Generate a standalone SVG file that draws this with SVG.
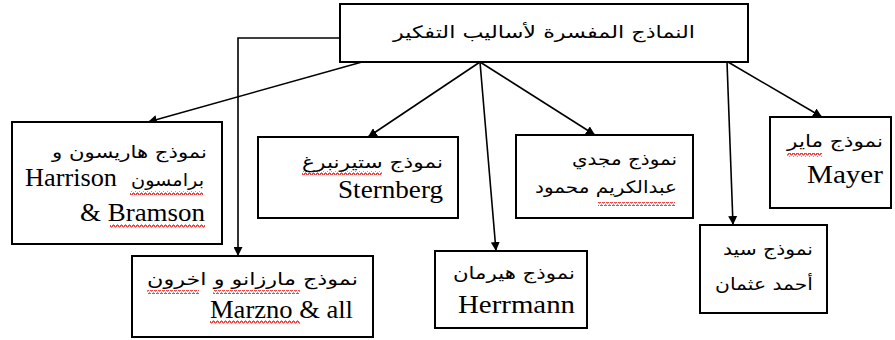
<svg xmlns="http://www.w3.org/2000/svg" width="895" height="340" viewBox="0 0 895 340">
<style>
.box{fill:#fff;stroke:#000;stroke-width:2}
.ar{font-family:"DejaVu Sans","Noto Sans",sans-serif;font-size:17px;fill:#000}
.en{font-family:"Liberation Serif","Times New Roman",serif;font-size:25px;fill:#000}
.con{stroke:#000;stroke-width:1.6;fill:none;marker-end:url(#ah)}
.sq{fill:none;stroke:#e00;stroke-width:1}
</style>
<defs>
<marker id="ah" viewBox="0 0 10 10" refX="10" refY="5" markerWidth="9" markerHeight="9" orient="auto" markerUnits="userSpaceOnUse">
<path d="M0,0 L10,5 L0,10 z" fill="#000"/>
</marker>
<pattern id="wave" width="4" height="4" patternUnits="userSpaceOnUse">
<path d="M0,3 L1,1 L2,1 L3,3 L4,3" class="sq"/>
</pattern>
</defs>
<rect width="895" height="340" fill="#fff"/>

<g id="connectors">
<path class="con" d="M362,62 L148,122"/>
<path class="con" d="M340,38 L238,38 L238,256"/>
<path class="con" d="M480,62 L368,137"/>
<path class="con" d="M480,62 L496,251"/>
<path class="con" d="M480,62 L595,135"/>
<path class="con" d="M727,62 L733,225"/>
<path class="con" d="M728,62 L822,117"/>
</g>

<g id="title">
<rect class="box" x="340" y="4" width="408" height="58"/>
<text class="ar" x="695" y="38" text-anchor="end" font-size="20" textLength="302" lengthAdjust="spacingAndGlyphs">النماذج المفسرة لأساليب التفكير</text>
</g>

<g id="harrison">
<rect class="box" x="12" y="122" width="210" height="122"/>
<text class="ar" x="207" y="158" text-anchor="end" textLength="155" lengthAdjust="spacingAndGlyphs">نموذج هاريسون و</text>
<text class="ar" x="204" y="186" text-anchor="end" textLength="73" lengthAdjust="spacingAndGlyphs">برامسون</text>
<text class="en" x="117" y="186" text-anchor="end" textLength="92" lengthAdjust="spacingAndGlyphs">Harrison</text>
<text class="en" x="205" y="221" text-anchor="end" textLength="125" lengthAdjust="spacingAndGlyphs">&amp; Bramson</text>
<rect x="130" y="191" width="73" height="4" fill="url(#wave)"/>
<rect x="110" y="224" width="95" height="4" fill="url(#wave)"/>
</g>

<g id="sternberg">
<rect class="box" x="258" y="137" width="200" height="81"/>
<text class="ar" x="443" y="168" text-anchor="end" textLength="141" lengthAdjust="spacingAndGlyphs">نموذج ستيرنبرغ</text>
<text class="en" x="443" y="198" text-anchor="end" textLength="105" lengthAdjust="spacingAndGlyphs">Sternberg</text>
<rect x="302" y="171" width="80" height="4" fill="url(#wave)"/>
</g>

<g id="magdi">
<rect class="box" x="516" y="135" width="177" height="83"/>
<text class="ar" x="677" y="165" text-anchor="end" textLength="105" lengthAdjust="spacingAndGlyphs">نموذج مجدي</text>
<text class="ar" x="677" y="193" text-anchor="end" textLength="142" lengthAdjust="spacingAndGlyphs">عبدالكريم محمود</text>
<rect x="598" y="202" width="77" height="4" fill="url(#wave)"/>
</g>

<g id="mayer">
<rect class="box" x="770" y="117" width="121" height="91"/>
<text class="ar" x="883" y="147" text-anchor="end" textLength="96" lengthAdjust="spacingAndGlyphs">نموذج ماير</text>
<text class="en" x="883" y="183" text-anchor="end" textLength="76" lengthAdjust="spacingAndGlyphs">Mayer</text>
<rect x="787" y="153" width="35" height="4" fill="url(#wave)"/>
</g>

<g id="marzano">
<rect class="box" x="132" y="256" width="241" height="81"/>
<text class="ar" x="358" y="285" text-anchor="end" textLength="211" lengthAdjust="spacingAndGlyphs">نموذج مارزانو و اخرون</text>
<text class="en" x="353" y="318" text-anchor="end" textLength="143" lengthAdjust="spacingAndGlyphs">Marzno &amp; all</text>
<rect x="147" y="290" width="52" height="4" fill="url(#wave)"/>
<rect x="213" y="290" width="87" height="4" fill="url(#wave)"/>
<rect x="210" y="320" width="90" height="4" fill="url(#wave)"/>
</g>

<g id="herrmann">
<rect class="box" x="435" y="251" width="152" height="77"/>
<text class="ar" x="575" y="279" text-anchor="end" textLength="122" lengthAdjust="spacingAndGlyphs">نموذج هيرمان</text>
<text class="en" x="575" y="313" text-anchor="end" textLength="117" lengthAdjust="spacingAndGlyphs">Herrmann</text>
</g>

<g id="sayed">
<rect class="box" x="700" y="225" width="127" height="88"/>
<text class="ar" x="813" y="255" text-anchor="end" textLength="90" lengthAdjust="spacingAndGlyphs">نموذج سيد</text>
<text class="ar" x="813" y="290" text-anchor="end" textLength="98" lengthAdjust="spacingAndGlyphs">أحمد عثمان</text>
</g>
</svg>
